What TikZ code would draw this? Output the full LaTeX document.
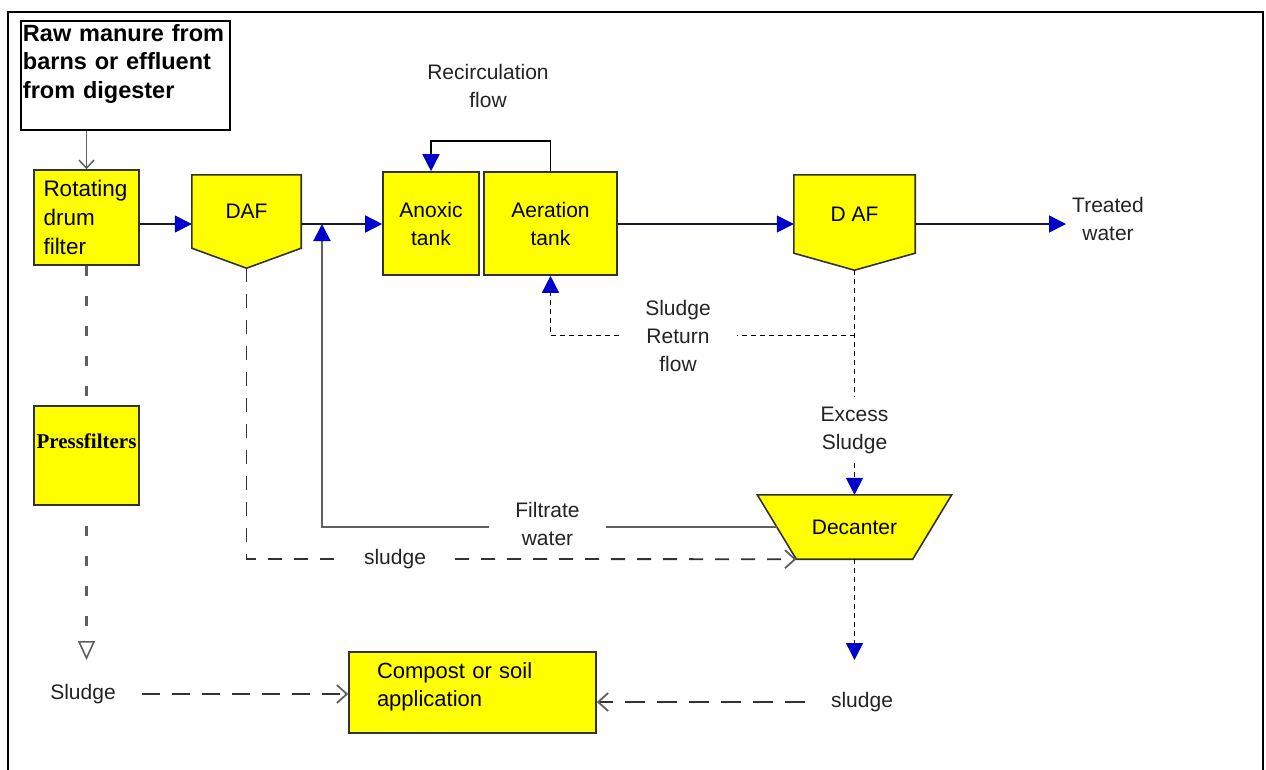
\documentclass[tikz,border=0pt]{standalone}
\usepackage{fontspec}
\setmainfont{Liberation Sans}
\newfontfamily\pfserif{Liberation Serif}
\usetikzlibrary{arrows.meta,calc,backgrounds}
\definecolor{yel}{RGB}{255,255,0}
\definecolor{bord}{RGB}{50,50,50}
\definecolor{flowcol}{RGB}{25,25,55}
\definecolor{arrblue}{RGB}{0,0,205}
\definecolor{txt}{RGB}{35,35,35}
\definecolor{graycol}{RGB}{95,95,95}
\newcommand\lblfont{\fontsize{21}{28}\selectfont}
\begin{document}
\begin{tikzpicture}[x=1pt,y=-1pt,
  box/.style={draw=bord,fill=yel,line width=1.6pt,inner sep=0pt,text=black},
  ghost/.style={inner sep=0pt,text=black,font=\lblfont},
  shapeline/.style={draw=bord,fill=yel,line width=1.6pt,line join=miter},
  lbl/.style={text=txt,align=center,font=\lblfont,inner sep=0pt},
  bluetip/.style={-{Triangle[color=arrblue,length=17pt,width=17pt]}},
  flow/.style={draw=flowcol,line width=1.5pt,bluetip},
  dotl/.style={draw=black,line width=1.5pt,dash pattern=on 5pt off 4pt},
  graydash/.style={draw=graycol,line width=2.4pt,dash pattern=on 10pt off 20pt},
  sludash/.style={draw=bord,line width=1.8pt,dash pattern=on 14pt off 12pt},
  opentip/.style={-{Straight Barb[length=10pt,width=18pt,color=graycol]}}
]
\useasboundingbox (0,0) rectangle (1266,769);
% frame
\draw[line width=2.5pt] (8,775) -- (8,12) -- (1263,12) -- (1263,775);

% nodes
\node[draw=black,fill=white,line width=1.6pt,minimum width=209pt,minimum height=109pt,
      text width=205pt,align=left,inner sep=0pt,
      font=\bfseries\fontsize{23.5}{28.5}\selectfont] (raw) at (125.5,75.5)
  {Raw manure from\\barns or effluent\\from digester\\\mbox{}};
\node[box,minimum width=105pt,minimum height=95pt,text width=86pt,align=left,
      font=\fontsize{22.5}{29}\selectfont] (drum) at (86.5,217.5) {Rotating\\drum\\filter};
\node[ghost,minimum width=109pt,minimum height=73pt] (daf1) at (246.5,211.5) {\raisebox{-4pt}{DAF}};
\coordinate (daf1tip) at ($(daf1.south)+(0,20)$);
\node[box,minimum width=96pt,minimum height=103pt,align=center,font=\lblfont] (anox) at (431,223.5) {Anoxic\\tank};
\node[box,minimum width=133pt,minimum height=103pt,align=center,font=\lblfont] (aer) at (550.5,223.5) {Aeration\\tank};
\node[ghost,minimum width=121pt,minimum height=78pt] (daf2) at (854.5,214) {D AF};
\coordinate (daf2tip) at ($(daf2.south)+(0,17)$);
\node[ghost,minimum width=194pt,minimum height=64pt] (dec) at (854.5,527) {Decanter};
\coordinate (decbl) at ($(dec.south west)+(39,0)$);
\coordinate (decbr) at ($(dec.south east)+(-39,0)$);
\coordinate (decleft) at ($(dec.north west)!0.5!(decbl)$);
\node[box,minimum width=105pt,minimum height=99pt,align=center,
      font=\pfserif\bfseries\fontsize{21}{28}\selectfont] (press) at (86.5,455.5) {Pressfilters\\\mbox{}};
\node[box,minimum width=247pt,minimum height=81pt,text width=191pt,align=left,
      font=\fontsize{22}{28}\selectfont] (comp) at (472.5,692.5) {Compost or soil\\application\\[-12pt]\mbox{}};

% shapes with a point
\begin{pgfonlayer}{background}
\draw[shapeline] (daf1.north west) -- (daf1.north east) -- (daf1.south east) -- (daf1tip) -- (daf1.south west) -- cycle;
\draw[shapeline] (daf2.north west) -- (daf2.north east) -- (daf2.south east) -- (daf2tip) -- (daf2.south west) -- cycle;
\draw[shapeline] (dec.north west) -- (dec.north east) -- (decbr) -- (decbl) -- cycle;
\end{pgfonlayer}

% labels
\node[lbl] (recl) at (488,86) {Recirculation\\flow};
\node[lbl,inner sep=6pt] (treated) at (1108,219) {Treated\\water};
\node[lbl,minimum width=117pt] (ret) at (678,335.5) {Sludge\\Return\\flow};
\node[lbl,minimum height=65pt] (exc) at (854.5,430) {Excess\\Sludge};
\node[lbl,minimum width=117pt] (fil) at (547.5,524) {Filtrate\\water};
\node[lbl,minimum width=120pt] (sl3) at (395,559) {sludge};
\node[lbl,minimum width=114pt] (sl2) at (862,702) {sludge};
\node[lbl,minimum width=118pt] (sl1) at (83,694) {Sludge};
\coordinate (mainline) at (0,224);
\coordinate (filjoin) at (322,224);
\coordinate (decout) at (854.5,660);
\coordinate (pressout) at (86.5,660);

% connectors
\draw[draw=graycol,line width=1.5pt,-{Straight Barb[length=8pt,width=15pt,color=graycol]}] (raw.south -| drum.north) -- (drum.north);
\draw[flow] (drum.east |- mainline) -- (daf1.west |- mainline);
\draw[flow] (daf1.east |- mainline) -- (anox.west |- mainline);
\draw[flow] (aer.east |- mainline) -- (daf2.west |- mainline);
\draw[flow] (daf2.east |- mainline) -- (treated.west |- mainline);
\draw[draw=black,line width=1.5pt,bluetip] (aer.north) -- ++(0,-30) -| (anox.north);

\coordinate (br) at (daf2tip |- ret.center);
\draw[dotl] (daf2tip) -- (exc.north);
\draw[dotl] (br) -- (ret.east |- br);
\draw[dotl,bluetip] (ret.west |- br) -| (aer.south);
\draw[dotl,bluetip] (exc.south) -- (dec.north);
\draw[dotl,bluetip] (dec.south) -- (decout);

\draw[draw=graycol,line width=2pt] (decleft) -- (fil.east |- decleft);
\draw[draw=graycol,line width=2pt,bluetip] (fil.west |- decleft) -| (filjoin);

\draw[sludash] (daf1tip) |- (sl3.west);
\draw[sludash,opentip] (sl3.east) -- (decbl);

\draw[graydash] (drum.south) -- (press.north);
\draw[graydash,dash phase=10pt,-{Triangle[open,length=19pt,width=17pt,color=graycol,line width=1.6pt]}] (press.south) -- (pressout);
\draw[sludash,dash pattern=on 18pt off 12pt,opentip] (sl1.east) -- (sl1.east -| comp.west);
\draw[sludash,dash pattern=on 20pt off 12pt,opentip] (sl2.west) -- (sl2.west -| comp.east);
\end{tikzpicture}
\end{document}
